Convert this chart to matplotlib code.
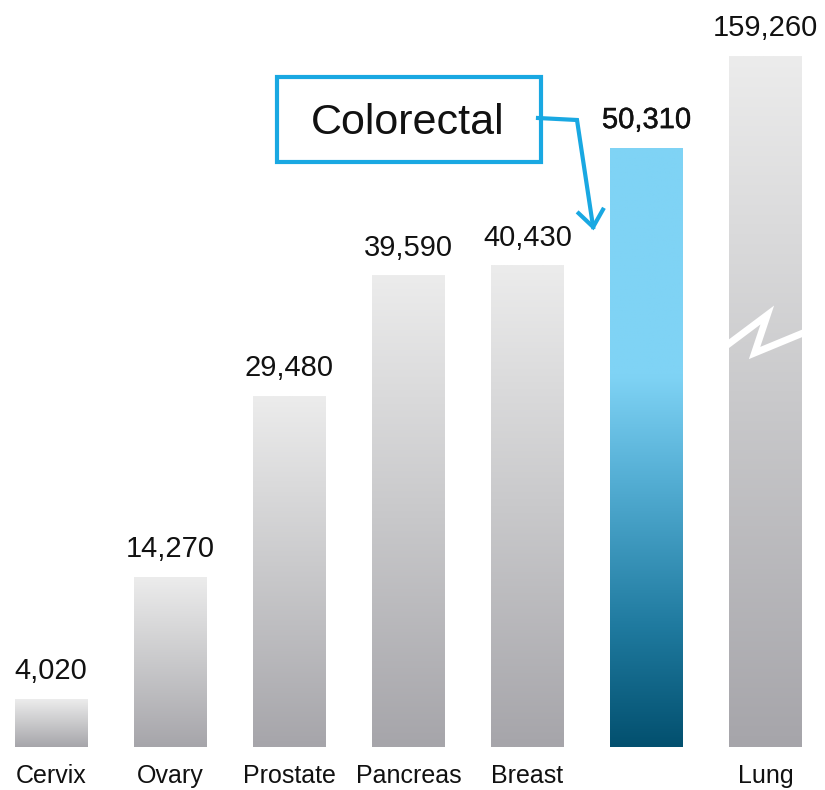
import numpy as np
import matplotlib
matplotlib.use("Agg")
import matplotlib.pyplot as plt
import matplotlib.patheffects as pe
from matplotlib.colors import LinearSegmentedColormap

# data
categories = ["Cervix", "Ovary", "Prostate", "Pancreas", "Breast", "", "Lung"]
values = [4020, 14270, 29480, 39590, 40430, 50310, 159260]
highlight = "Colorectal"
highlight_idx = 5
broken_idx = 6

plt.rcParams['font.family'] = ['Liberation Sans', 'DejaVu Sans']

W, H = 825, 790
fig = plt.figure(figsize=(W / 100, H / 100), dpi=100)
# axes spans the figure above the baseline at y=747px
ax = fig.add_axes([0, 43 / H, 1, 747 / H])
ax.set_axis_off()

units_per_px = 84.0
ax.set_ylim(0, 747 * units_per_px)
ax.set_xlim(-0.43, 6.5)
cap = 691 * units_per_px  # drawn height of the broken bar

x = np.arange(len(values))
width = 0.61

gray = LinearSegmentedColormap.from_list("g", ["#a6a5aa", "#c9c9cb", "#ececec"])
blue = LinearSegmentedColormap.from_list(
    "b", [(0.0, "#03506f"), (0.2, "#1f7a9f"), (0.45, "#55afd5"),
          (0.62, "#7fd3f5"), (1.0, "#7fd3f5")])

grad = np.linspace(0, 1, 256).reshape(-1, 1)

for i, v in enumerate(values):
    h = min(v, cap)
    cmap = blue if i == highlight_idx else gray
    ax.imshow(grad, cmap=cmap, origin="lower", aspect="auto",
              extent=[x[i] - width / 2, x[i] + width / 2, 0, h], zorder=2)
    txt = ax.text(x[i], h + 14 * units_per_px, f"{v:,}", ha="center", va="bottom",
                  fontsize=21, color="#111111", clip_on=False, zorder=4)
    if i == highlight_idx:
        txt.set_path_effects([pe.withStroke(linewidth=0.35, foreground="#111111")])
    ax.text(x[i], -17 * units_per_px, categories[i], ha="center", va="top",
            fontsize=18, color="#111111", clip_on=False)

# break mark on the Lung bar
bx = x[broken_idx]
bw = width / 2
by = 410 * units_per_px
zz_x = [bx - bw * 1.2, bx + bw * 0.05, bx - bw * 0.3, bx + bw * 1.3]
zz_y = [by - 12 * units_per_px, by + 22 * units_per_px,
        by - 16 * units_per_px, by + 8 * units_per_px]
ax.plot(zz_x, zz_y, color="white", lw=5, solid_joinstyle="miter", zorder=3)

# callout box with arrow (pixel coords from top-left)
blue_line = "#19a8e2"
def fpt(px, py):
    return px / W, 1 - py / H

fig.patches.append(plt.Rectangle(fpt(277, 162), 264 / W, 85 / H,
                                 transform=fig.transFigure, fill=False,
                                 edgecolor=blue_line, lw=3, zorder=5))
fig.text(*fpt(408, 123), highlight, ha="center", va="center",
         fontsize=31, color="#111111")

# arrow tip sits just left of the highlighted bar
bar_left_px = ax.transData.transform((x[highlight_idx] - width / 2, 0))[0]
tip = np.array([bar_left_px - 17, 227.0])
elbow = np.array([577.0, 120.0])
path = [fpt(538, 118), fpt(*elbow), fpt(*tip)]
fig.lines.append(plt.Line2D([p[0] for p in path], [p[1] for p in path],
                            transform=fig.transFigure, color=blue_line, lw=3,
                            solid_joinstyle="miter"))
back = (elbow - tip) / np.linalg.norm(elbow - tip)
arms = []
for ang in (np.radians(38), -np.radians(38)):
    rot = np.array([[np.cos(ang), -np.sin(ang)], [np.sin(ang), np.cos(ang)]])
    arms.append(tip + 22 * rot @ back)
head = [fpt(*arms[0]), fpt(*tip), fpt(*arms[1])]
fig.lines.append(plt.Line2D([p[0] for p in head], [p[1] for p in head],
                            transform=fig.transFigure, color=blue_line, lw=3,
                            solid_joinstyle="miter", solid_capstyle="butt"))

fig.savefig("out.png", dpi=100, facecolor="white")
